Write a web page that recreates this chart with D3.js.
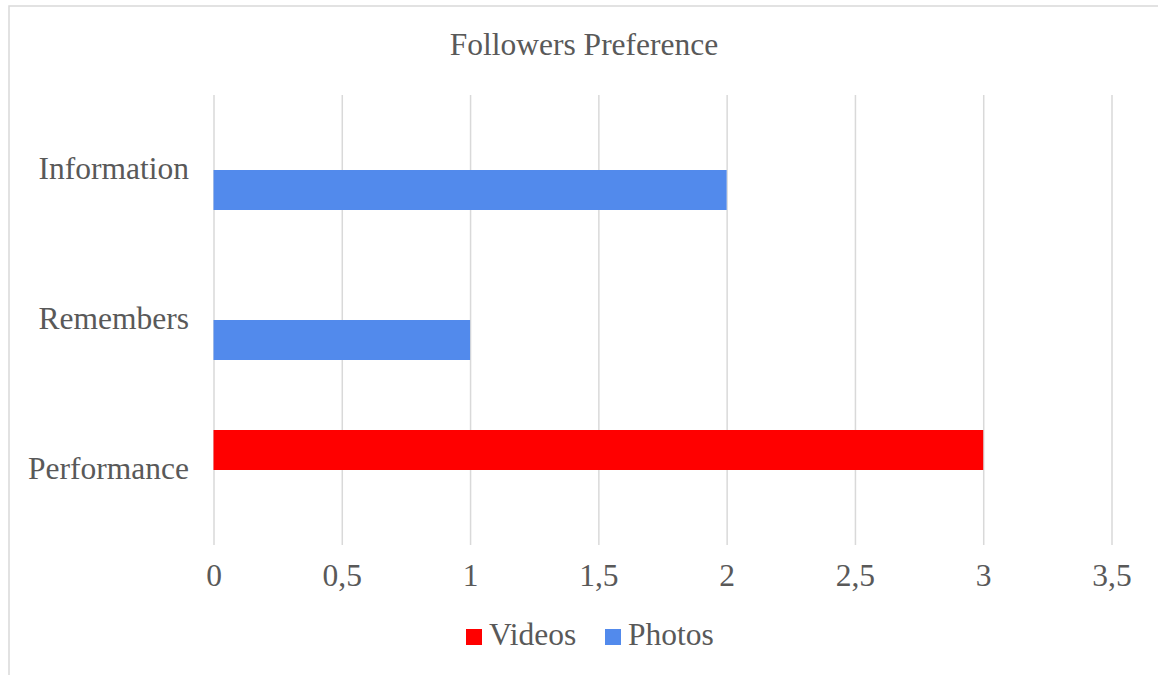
<!DOCTYPE html>
<html>
<head>
<meta charset="utf-8">
<script src="https://cdn.jsdelivr.net/npm/d3@7"></script>
<style>
  body { margin: 0; background: #fff; }
</style>
</head>
<body>
<svg id="chart" width="1158" height="675"></svg>
<script>
const categories = ["Information", "Remembers", "Performance"];
const seriesNames = ["Videos", "Photos"];
const videos = [0, 0, 3];
const photos = [2, 1, 0];
const xTicks = [0, 0.5, 1, 1.5, 2, 2.5, 3, 3.5];
const colors = ["#ff0000", "#528aec"];

const width = 1158, height = 675;
const margin = { top: 95, right: 46.5, bottom: 130, left: 213.5 };
const plotH = height - margin.top - margin.bottom;
const FONT = "Liberation Serif";
const TEXT_COLOR = "#595959";

const svg = d3.select("#chart");

// chart frame (only top and left edges fall inside the window)
svg.append("rect")
  .attr("x", 9).attr("y", 6)
  .attr("width", 1200).attr("height", 700)
  .attr("fill", "none")
  .attr("stroke", "#d9d9d9")
  .attr("stroke-width", 1.5);

svg.append("text")
  .attr("x", 584).attr("y", 55)
  .attr("text-anchor", "middle")
  .attr("font-family", FONT)
  .attr("font-size", 31.5)
  .attr("fill", TEXT_COLOR)
  .text("Followers Preference");

const x = d3.scaleLinear().domain([0, 3.5]).range([margin.left, width - margin.right]);
const y0 = d3.scaleBand().domain(categories).range([margin.top, margin.top + plotH]);
const y1 = d3.scaleBand().domain(seriesNames).range([0, y0.bandwidth()])
  .paddingInner(0).paddingOuter(0.875);

// gridlines + tick labels
const xAxis = svg.append("g")
  .attr("transform", `translate(0,${margin.top})`)
  .call(d3.axisBottom(x)
    .tickValues(xTicks)
    .tickSize(plotH)
    .tickPadding(18.5)
    .tickFormat((d) => String(d).replace(".", ",")));
xAxis.attr("font-family", FONT).attr("font-size", 31.5);
xAxis.select(".domain").remove();
xAxis.selectAll(".tick line").attr("stroke", "#d9d9d9").attr("stroke-width", 1.5);
xAxis.selectAll(".tick text").attr("fill", TEXT_COLOR);

// category labels
svg.append("g")
  .selectAll("text")
  .data(categories)
  .join("text")
  .attr("x", 189)
  .attr("y", (d) => y0(d) + y0.bandwidth() / 2 + 9)
  .attr("text-anchor", "end")
  .attr("font-family", FONT)
  .attr("font-size", 31.5)
  .attr("fill", TEXT_COLOR)
  .text((d) => d);

// bars
const rows = categories.map((c, i) => ({ cat: c, values: [videos[i], photos[i]] }));
svg.append("g")
  .selectAll("g")
  .data(rows)
  .join("g")
  .attr("transform", (d) => `translate(0,${y0(d.cat)})`)
  .selectAll("rect")
  .data((d) => d.values.map((v, j) => ({ key: seriesNames[j], value: v, color: colors[j] })))
  .join("rect")
  .attr("x", x(0))
  .attr("y", (d) => y1(d.key))
  .attr("width", (d) => x(d.value) - x(0))
  .attr("height", y1.bandwidth())
  .attr("fill", (d) => d.color);

// legend
const legendX = [466, 605];
const legend = svg.append("g")
  .selectAll("g")
  .data(seriesNames)
  .join("g")
  .attr("transform", (d, i) => `translate(${legendX[i]},629)`);
legend.append("rect")
  .attr("width", 16).attr("height", 16)
  .attr("fill", (d, i) => colors[i]);
legend.append("text")
  .attr("x", 23).attr("y", 16)
  .attr("font-family", FONT)
  .attr("font-size", 31.5)
  .attr("fill", TEXT_COLOR)
  .text((d) => d);
</script>
</body>
</html>
